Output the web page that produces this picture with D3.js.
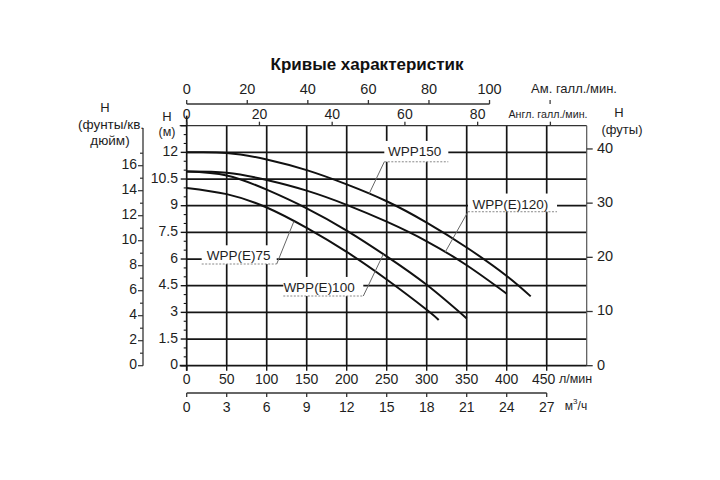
<!DOCTYPE html>
<html><head><meta charset="utf-8">
<script src="https://cdn.jsdelivr.net/npm/d3@7"></script>
<style>
html,body{margin:0;padding:0;background:#fff;}
svg{display:block;font-family:"Liberation Sans",Arial,"DejaVu Sans",sans-serif;}
</style></head>
<body><svg id="chart" width="720" height="480"></svg>
<script>
// ---- data (flow in l/min, head in m) ----
const wpp150Flow  = [0, 50, 100, 150, 200, 250, 300, 350, 400, 430];
const wpp150Head  = [12.0, 11.97, 11.6, 11.0, 10.2, 9.25, 8.05, 6.65, 5.05, 3.9];
const wppE120Flow = [0, 50, 100, 150, 200, 250, 300, 350, 400];
const wppE120Head = [10.92, 10.85, 10.45, 9.85, 9.05, 8.1, 7.0, 5.65, 4.05];
const wppE100Flow = [0, 50, 100, 150, 200, 250, 300, 350];
const wppE100Head = [10.92, 10.7, 9.9, 8.85, 7.6, 6.15, 4.55, 2.66];
const wppE75Flow  = [0, 50, 100, 150, 200, 250, 300, 315];
const wppE75Head  = [10.0, 9.65, 8.9, 7.75, 6.4, 4.85, 3.15, 2.57];
const seriesNames = ["WPP150", "WPP(E)120)", "WPP(E)100", "WPP(E)75"];

const lpmTicks   = [0, 50, 100, 150, 200, 250, 300, 350, 400, 450];
const m3hTicks   = [0, 3, 6, 9, 12, 15, 18, 21, 24, 27];
const usGpmTicks = [0, 20, 40, 60, 80, 100];
const impGpmTicks= [0, 20, 40, 60, 80];
const meterTicks = [0, 1.5, 3, 4.5, 6, 7.5, 9, 10.5, 12];
const psiTicks   = [0, 2, 4, 6, 8, 10, 12, 14, 16];
const feetTicks  = [0, 10, 20, 30, 40];

const titleText = "Кривые характеристик";

// ---- layout ----
const svg = d3.select("#chart");
const L = 186.7, R = 586.7, T = 125.7, B = 365.7;
const x = d3.scaleLinear().domain([0, 500]).range([L, R]);
const y = d3.scaleLinear().domain([0, 13.5]).range([B, T]);
const xM3 = d3.scaleLinear().domain([0, 30]).range([L, R]);
const xUS = d3.scaleLinear().domain([0, 500 / 3.78541]).range([L, R]);
const xImp = d3.scaleLinear().domain([0, 500 / 4.54609]).range([L, R]);
const yPsi = d3.scaleLinear().domain([0, 13.5 / 0.70307]).range([B, T]);
const yFt = d3.scaleLinear().domain([0, 13.5 / 0.3048]).range([B, T]);

const ink = "#151515";
const txt = "#1e1e1e";

// title
svg.append("text").attr("x", 367).attr("y", 66).attr("text-anchor", "middle")
  .attr("dominant-baseline", "middle").attr("font-size", 17).attr("font-weight", "bold")
  .attr("fill", "#111").text(titleText);

// grid
const g = svg.append("g");
g.selectAll(".vg").data(lpmTicks.filter(d => d > 0)).join("line")
  .attr("x1", d => x(d)).attr("x2", d => x(d)).attr("y1", T).attr("y2", B)
  .attr("stroke", ink).attr("stroke-width", 1.7);
g.selectAll(".hg").data(meterTicks.filter(d => d > 0)).join("line")
  .attr("x1", L).attr("x2", R).attr("y1", d => y(d)).attr("y2", d => y(d))
  .attr("stroke", ink).attr("stroke-width", 1.7);

// borders
svg.append("line").attr("x1", L - 7).attr("x2", R).attr("y1", T).attr("y2", T).attr("stroke", "#333").attr("stroke-width", 1.2);
svg.append("line").attr("x1", R).attr("x2", R).attr("y1", T).attr("y2", B).attr("stroke", "#555").attr("stroke-width", 1.2);
svg.append("line").attr("x1", L).attr("x2", L).attr("y1", T - 10).attr("y2", B + 5).attr("stroke", ink).attr("stroke-width", 1.7);
svg.append("line").attr("x1", L - 7).attr("x2", R).attr("y1", B).attr("y2", B).attr("stroke", ink).attr("stroke-width", 1.7);

// curves
const line = d3.line().x(d => x(d[0])).y(d => y(d[1])).curve(d3.curveNatural);
const series = [
  [wpp150Flow, wpp150Head], [wppE120Flow, wppE120Head],
  [wppE100Flow, wppE100Head], [wppE75Flow, wppE75Head]
].map((s, i) => ({ name: seriesNames[i], pts: s[0].map((q, j) => [q, s[1][j]]) }));
svg.selectAll(".curve").data(series).join("path")
  .attr("d", d => line(d.pts)).attr("fill", "none")
  .attr("stroke", "#111").attr("stroke-width", 2);

function headAt(s, q) {
  const f = s.pts.map(p => p[0]), h = s.pts.map(p => p[1]);
  const i = Math.max(1, d3.bisectLeft(f, q));
  const t = (q - f[i - 1]) / (f[i] - f[i - 1]);
  return h[i - 1] + t * (h[i] - h[i - 1]);
}

// callouts (positions in data units)
const callouts = [
  { s: 0, tq: 285, th: 12.0, u0: 247, u1: 327, uh: 11.47, from: 247, toQ: 228 },
  { s: 1, tq: 404.5, th: 9.04, u0: 351.6, u1: 462.9, uh: 8.66, from: 351.6, toQ: 323 },
  { s: 3, tq: 65, th: 6.13, u0: 18.75, u1: 112.5, uh: 5.72, from: 112.5, toQ: 134 },
  { s: 2, tq: 165.4, th: 4.35, u0: 120.75, u1: 220.75, uh: 3.92, from: 220.75, toQ: 245.8 }
];
callouts.forEach(c => {
  const grp = svg.append("g");
  const rect = grp.append("rect").attr("fill", "#fff");
  const t = grp.append("text").attr("x", x(c.tq)).attr("y", y(c.th))
    .attr("text-anchor", "middle").attr("dominant-baseline", "middle")
    .attr("font-size", 13.5).attr("fill", txt).text(series[c.s].name);
  const bb = t.node().getBBox();
  rect.attr("x", x(c.u0)).attr("width", x(c.u1) - x(c.u0))
    .attr("y", bb.y - 3).attr("height", y(c.uh) - bb.y + 3);
  grp.append("line").attr("x1", x(c.u0)).attr("x2", x(c.u1)).attr("y1", y(c.uh)).attr("y2", y(c.uh))
    .attr("stroke", "#888").attr("stroke-width", 1).attr("stroke-dasharray", "2,1.5");
  grp.append("line").attr("x1", x(c.from)).attr("y1", y(c.uh))
    .attr("x2", x(c.toQ)).attr("y2", y(headAt(series[c.s], c.toQ)))
    .attr("stroke", "#666").attr("stroke-width", 1);
});

// bottom l/min axis
const ax = svg.append("g").attr("font-size", 14).attr("fill", txt);
ax.selectAll(".bt").data(lpmTicks).join("line")
  .attr("x1", d => x(d)).attr("x2", d => x(d)).attr("y1", B).attr("y2", B + 5)
  .attr("stroke", ink).attr("stroke-width", 1.4);
ax.selectAll(".bl").data(lpmTicks).join("text")
  .attr("x", d => x(d) - (d === 450 ? 3 : 0)).attr("y", 380).attr("text-anchor", "middle")
  .attr("dominant-baseline", "middle").text(d => d);
svg.append("text").attr("x", 559).attr("y", 380).attr("text-anchor", "start")
  .attr("dominant-baseline", "middle").attr("font-size", 12.5).attr("fill", txt).text("л/мин");

// m3/h axis
const m3y = 393;
svg.append("line").attr("x1", xM3(0)).attr("x2", xM3(27)).attr("y1", m3y).attr("y2", m3y)
  .attr("stroke", "#333").attr("stroke-width", 1.4);
ax.selectAll(".mt").data(m3hTicks).join("line")
  .attr("x1", d => xM3(d)).attr("x2", d => xM3(d)).attr("y1", m3y).attr("y2", m3y + 4)
  .attr("stroke", "#333").attr("stroke-width", 1.3);
ax.selectAll(".ml").data(m3hTicks).join("text")
  .attr("x", d => xM3(d)).attr("y", 408).attr("text-anchor", "middle")
  .attr("dominant-baseline", "middle").text(d => d);
const m3lab = svg.append("text").attr("x", 576).attr("y", 407).attr("text-anchor", "middle")
  .attr("dominant-baseline", "middle").attr("font-size", 12).attr("fill", txt);
m3lab.append("tspan").text("м");
m3lab.append("tspan").attr("font-size", 8).attr("dy", -5).text("3");
m3lab.append("tspan").attr("dy", 5).text("/ч");

// top US gpm axis
const usY = 104;
svg.append("line").attr("x1", xUS(0)).attr("x2", xUS(100)).attr("y1", usY).attr("y2", usY)
  .attr("stroke", "#333").attr("stroke-width", 1.3);
ax.selectAll(".ut").data(usGpmTicks).join("line")
  .attr("x1", d => xUS(d)).attr("x2", d => xUS(d)).attr("y1", usY).attr("y2", usY - 4)
  .attr("stroke", "#333").attr("stroke-width", 1.3);
ax.selectAll(".ul").data(usGpmTicks).join("text")
  .attr("x", d => xUS(d)).attr("y", 90).attr("text-anchor", "middle")
  .attr("dominant-baseline", "middle").attr("font-size", 14.5).text(d => d);
svg.append("line").attr("x1", xUS(120)).attr("x2", xUS(120)).attr("y1", usY - 4).attr("y2", usY)
  .attr("stroke", "#333").attr("stroke-width", 1.2);
svg.append("text").attr("x", 574).attr("y", 90).attr("text-anchor", "middle")
  .attr("dominant-baseline", "middle").attr("font-size", 13).attr("fill", txt).text("Ам. галл./мин.");

// top imperial gpm axis
ax.selectAll(".it").data(impGpmTicks.concat([100])).join("line")
  .attr("x1", d => xImp(d)).attr("x2", d => xImp(d)).attr("y1", T).attr("y2", T - 4)
  .attr("stroke", "#333").attr("stroke-width", 1.3);
ax.selectAll(".il").data(impGpmTicks).join("text")
  .attr("x", d => xImp(d)).attr("y", 115).attr("text-anchor", "middle")
  .attr("dominant-baseline", "middle").attr("font-size", 14).text(d => d);
svg.append("text").attr("x", 548).attr("y", 115).attr("text-anchor", "middle")
  .attr("dominant-baseline", "middle").attr("font-size", 11.5).attr("fill", txt)
  .attr("textLength", 79).attr("lengthAdjust", "spacingAndGlyphs").text("Англ. галл./мин.");

// left meter axis
const minorM = d3.range(0, 13.51, 0.5).filter(d => Math.abs(d / 1.5 - Math.round(d / 1.5)) > 1e-6);
ax.selectAll(".mmj").data(meterTicks.concat([13.5])).join("line")
  .attr("x1", L - 6).attr("x2", L).attr("y1", d => y(d)).attr("y2", d => y(d))
  .attr("stroke", ink).attr("stroke-width", 1.4);
ax.selectAll(".mmn").data(minorM).join("line")
  .attr("x1", L - 3).attr("x2", L).attr("y1", d => y(d)).attr("y2", d => y(d))
  .attr("stroke", ink).attr("stroke-width", 1.1);
ax.selectAll(".ml2").data(meterTicks).join("text")
  .attr("x", 178).attr("y", d => y(d)).attr("text-anchor", "end")
  .attr("dominant-baseline", "middle").text(d => d);
svg.append("text").attr("x", 167).attr("y", 118).attr("text-anchor", "middle")
  .attr("dominant-baseline", "middle").attr("font-size", 13).attr("fill", txt).text("H");
svg.append("text").attr("x", 167).attr("y", 133).attr("text-anchor", "middle")
  .attr("dominant-baseline", "middle").attr("font-size", 12.5).attr("fill", txt).text("(м)");

// left psi axis
const psiX = 143;
svg.append("line").attr("x1", psiX).attr("x2", psiX).attr("y1", 128).attr("y2", B)
  .attr("stroke", "#333").attr("stroke-width", 1.3);
const psiAll = d3.range(0, 18);
ax.selectAll(".pt").data(psiAll).join("line")
  .attr("x1", d => d % 2 === 0 ? psiX - 5 : psiX - 3).attr("x2", psiX)
  .attr("y1", d => yPsi(d)).attr("y2", d => yPsi(d))
  .attr("stroke", "#333").attr("stroke-width", 1.2);
ax.selectAll(".pl").data(psiTicks).join("text")
  .attr("x", 137).attr("y", d => yPsi(d)).attr("text-anchor", "end")
  .attr("dominant-baseline", "middle").text(d => d);
svg.append("text").attr("x", 105).attr("y", 109).attr("text-anchor", "middle")
  .attr("dominant-baseline", "middle").attr("font-size", 13).attr("fill", txt).text("H");
svg.append("text").attr("x", 111).attr("y", 125).attr("text-anchor", "middle")
  .attr("dominant-baseline", "middle").attr("font-size", 13.5).attr("fill", txt).text("(фунты/кв.");
svg.append("text").attr("x", 110).attr("y", 141).attr("text-anchor", "middle")
  .attr("dominant-baseline", "middle").attr("font-size", 13.5).attr("fill", txt).text("дюйм)");

// right feet axis
ax.selectAll(".ft").data(feetTicks).join("line")
  .attr("x1", R).attr("x2", R + 6).attr("y1", d => yFt(d)).attr("y2", d => yFt(d))
  .attr("stroke", "#333").attr("stroke-width", 1.3);
ax.selectAll(".fl").data(feetTicks).join("text")
  .attr("x", 597).attr("y", d => yFt(d)).attr("text-anchor", "start")
  .attr("dominant-baseline", "middle").attr("font-size", 14.5).text(d => d);
svg.append("text").attr("x", 619).attr("y", 114).attr("text-anchor", "middle")
  .attr("dominant-baseline", "middle").attr("font-size", 13).attr("fill", txt).text("H");
svg.append("text").attr("x", 622).attr("y", 131).attr("text-anchor", "middle")
  .attr("dominant-baseline", "middle").attr("font-size", 13).attr("fill", txt).text("(футы)");
</script></body></html>
